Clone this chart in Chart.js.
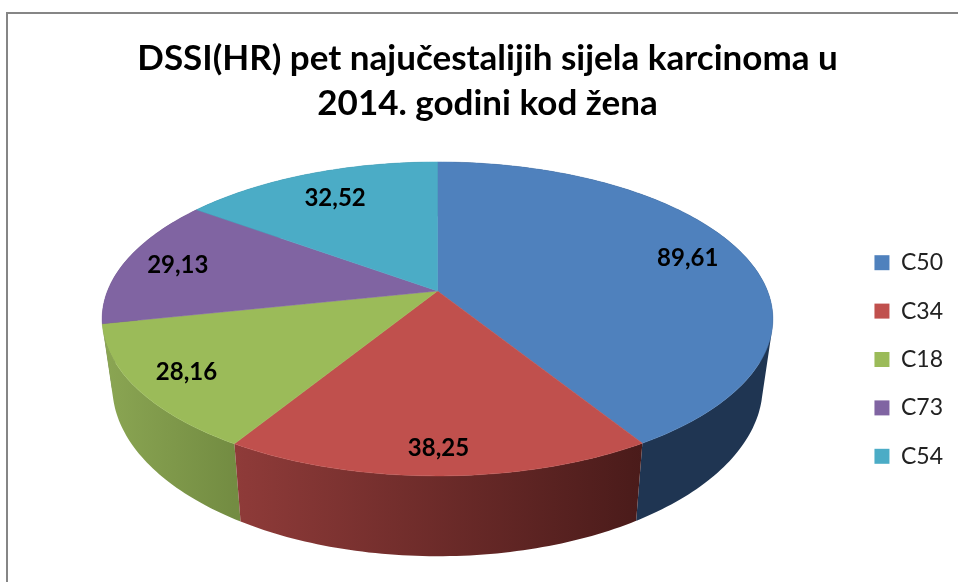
<!DOCTYPE html>
<html>
<head>
<meta charset="utf-8">
<style>
  html, body { margin: 0; padding: 0; background: #fff; overflow: hidden; }
  #frame { position: absolute; left: 6px; top: 12px; width: 1000px; height: 700px; border: 2px solid #868686; }
  #chart { position: absolute; left: 0; top: 0; }
</style>
<script src="https://cdn.jsdelivr.net/npm/chart.js@4"></script>
</head>
<body>
<div id="frame"></div>
<canvas id="chart" width="958" height="582"></canvas>
<script>
var titleLines = ['DSSI(HR) pet najučestalijih sijela karcinoma u', '2014. godini kod žena'];
var categories = ['C50', 'C34', 'C18', 'C73', 'C54'];
var values     = [89.61, 38.25, 28.16, 29.13, 32.52];
var topColors  = ['#4f81bd', '#c0504d', '#9bbb59', '#8064a2', '#4bacc6'];
var wallLeft   = ['#1f3552', '#8f3b39', '#8ba653', '#4c3b61', '#2c6678'];
var wallRight  = ['#1f3552', '#4a1b1a', '#738c42', '#4c3b61', '#2c6678'];
var labelRadius = [0.82, 0.875, 0.85, 0.83, 0.77];

/* perspective of the tilted disc: top face and bottom rim */
var TOP = { x: 437.5, y: 291, rx: 330, ry: 152, k: 0.178 };
var BOT = { x: 437.5, y: 356, rx: 320, ry: 164.6, k: 0.178 };

function project(p, a, f) {
  var u = Math.cos(a) * f, v = Math.sin(a) * f;
  var w = 1 - p.k * v;
  return { x: p.x + p.rx * u / w, y: p.y + p.ry * v / w };
}

function quadArea(q) {
  var s = 0;
  for (var i = 0; i < 4; i++) {
    var n = q[(i + 1) % 4];
    s += q[i].x * n.y - n.x * q[i].y;
  }
  return s;
}

function drawWall(ctx, arc, i) {
  var step = Math.PI / 180;
  var x1 = project(TOP, arc.startAngle, 1).x, x2 = project(TOP, arc.endAngle, 1).x;
  var grad = ctx.createLinearGradient(Math.min(x1, x2), 0, Math.max(x1, x2), 0);
  grad.addColorStop(0, wallLeft[i]);
  grad.addColorStop(1, wallRight[i]);
  /* one path with every quad wound the same way: no seams and no holes */
  ctx.beginPath();
  for (var a = arc.startAngle; a < arc.endAngle; a += step) {
    var b = Math.min(a + step, arc.endAngle);
    var q = [project(TOP, a, 1), project(TOP, b, 1), project(BOT, b, 1), project(BOT, a, 1)];
    if (quadArea(q) < 0) q.reverse();
    ctx.moveTo(q[0].x, q[0].y);
    ctx.lineTo(q[1].x, q[1].y);
    ctx.lineTo(q[2].x, q[2].y);
    ctx.lineTo(q[3].x, q[3].y);
    ctx.closePath();
  }
  ctx.fillStyle = grad;
  ctx.fill();
}

function drawFace(ctx, arc, i) {
  var step = Math.PI / 180;
  ctx.beginPath();
  ctx.moveTo(TOP.x, TOP.y);
  for (var a = arc.startAngle; a < arc.endAngle; a += step) {
    var p = project(TOP, a, 1);
    ctx.lineTo(p.x, p.y);
  }
  var e = project(TOP, arc.endAngle, 1);
  ctx.lineTo(e.x, e.y);
  ctx.closePath();
  ctx.fillStyle = topColors[i];
  ctx.strokeStyle = topColors[i];
  ctx.lineWidth = 0.5;
  ctx.fill();
  ctx.stroke();
}

/* pie elements keep their angles from Chart.js, only the painting is tilted */
var tiltedPie = {
  id: 'tiltedPie',
  beforeDatasetsDraw: function(chart) {
    var ctx = chart.ctx;
    var arcs = chart.getDatasetMeta(0).data;
    var order = arcs.map(function(arc, i) { return i; }).sort(function(a, b) {
      return Math.sin((arcs[a].startAngle + arcs[a].endAngle) / 2) - Math.sin((arcs[b].startAngle + arcs[b].endAngle) / 2);
    });
    ctx.save();
    order.forEach(function(i) { drawWall(ctx, arcs[i], i); });
    arcs.forEach(function(arc, i) { drawFace(ctx, arc, i); });
    ctx.fillStyle = '#000';
    ctx.font = 'bold 24px Lato';
    ctx.textAlign = 'center';
    ctx.textBaseline = 'middle';
    arcs.forEach(function(arc, i) {
      var p = project(TOP, (arc.startAngle + arc.endAngle) / 2, labelRadius[i]);
      ctx.fillText(values[i].toFixed(2).replace('.', ','), p.x, p.y);
    });
    ctx.restore();
    return false;
  }
};

new Chart(document.getElementById('chart'), {
  type: 'pie',
  data: {
    labels: categories,
    datasets: [{ data: values, backgroundColor: topColors, borderWidth: 0 }]
  },
  plugins: [tiltedPie],
  options: {
    responsive: false,
    animation: false,
    layout: { padding: { left: 22, right: 5, top: 36, bottom: -101 } },
    plugins: {
      tooltip: { enabled: false },
      title: {
        display: true,
        text: titleLines,
        color: '#000',
        font: { family: 'Lato', size: 35, weight: 'bold', lineHeight: 1.29 },
        padding: 0
      },
      legend: {
        position: 'right',
        labels: {
          boxWidth: 15,
          boxHeight: 15,
          padding: 25.4,
          color: '#222',
          font: { family: 'Lato', size: 23 }
        }
      }
    }
  }
});
</script>
</body>
</html>
